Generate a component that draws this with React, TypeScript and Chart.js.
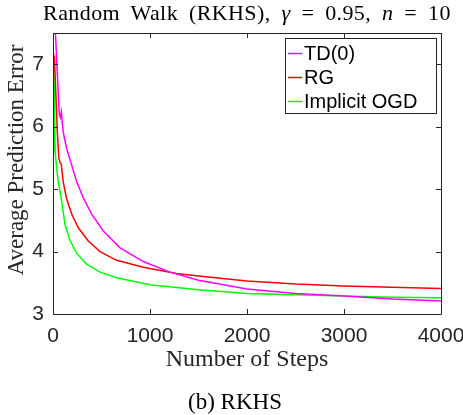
import React, { useEffect, useRef } from "react";
import { Chart, registerables } from "chart.js";

Chart.register(...registerables);

const tdSteps = [0, 25, 40, 52, 65, 75, 86, 96, 106, 141, 193, 244, 312, 399, 519, 691, 931, 1206, 1500, 2000, 2500, 3000, 3500, 4000];
const tdValues = [7.8, 7.5, 7.0, 6.6, 6.2, 6.15, 6.24, 6.05, 5.91, 5.65, 5.38, 5.12, 4.86, 4.6, 4.33, 4.06, 3.84, 3.67, 3.54, 3.4, 3.33, 3.29, 3.24, 3.21];

const rgSteps = [0, 15, 30, 45, 60, 72, 85, 106, 141, 193, 261, 364, 485, 657, 931, 1275, 1500, 2000, 2500, 3000, 3500, 4000];
const rgValues = [7.2, 7.1, 6.5, 5.9, 5.5, 5.43, 5.4, 5.11, 4.84, 4.6, 4.38, 4.17, 4.0, 3.86, 3.75, 3.65, 3.61, 3.53, 3.48, 3.45, 3.43, 3.41];

const ogdSteps = [0, 10, 22, 40, 55, 90, 124, 175, 244, 347, 485, 657, 1000, 1500, 2000, 2500, 3000, 3500, 4000];
const ogdValues = [5.6, 7.07, 5.6, 5.3, 5.11, 4.8, 4.43, 4.18, 3.97, 3.8, 3.67, 3.58, 3.47, 3.39, 3.33, 3.31, 3.29, 3.27, 3.26];

const seriesLabels = ["TD(0)", "RG", "Implicit OGD"];
const seriesColors = ["#ff00ff", "#ff0000", "#00ff00"];
const xTicks = [0, 1000, 2000, 3000, 4000];
const yTicks = [3, 4, 5, 6, 7];
const xTitle = "Number of Steps";
const yTitle = "Average Prediction Error";

const AXIS = "#262626";

const boxPlugin = {
  id: "boxTicks",
  afterDatasetsDraw(chart: any) {
    const { ctx, chartArea: a, scales } = chart;
    ctx.save();
    ctx.strokeStyle = AXIS;
    ctx.lineWidth = 1;
    ctx.beginPath();
    ctx.rect(Math.round(a.left) + 0.5, Math.round(a.top) + 0.5, Math.round(a.right - a.left), Math.round(a.bottom - a.top));
    ctx.stroke();
    const L = 5;
    ctx.beginPath();
    xTicks.forEach((v) => {
      const x = Math.round(scales.x.getPixelForValue(v)) + 0.5;
      ctx.moveTo(x, a.bottom);
      ctx.lineTo(x, a.bottom - L);
      ctx.moveTo(x, a.top);
      ctx.lineTo(x, a.top + L);
    });
    yTicks.forEach((v) => {
      const y = Math.round(scales.y.getPixelForValue(v)) + 0.5;
      ctx.moveTo(a.left, y);
      ctx.lineTo(a.left + L, y);
      ctx.moveTo(a.right, y);
      ctx.lineTo(a.right - L, y);
    });
    ctx.stroke();

    // axis titles
    ctx.fillStyle = AXIS;
    ctx.textAlign = "center";
    ctx.textBaseline = "middle";
    ctx.save();
    ctx.font = "24px 'Liberation Serif', serif";
    ctx.fillText(xTitle, (a.left + a.right) / 2, 360);
    ctx.restore();
    ctx.save();
    ctx.font = "23px 'Liberation Serif', serif";
    ctx.translate(17, 160);
    ctx.rotate(-Math.PI / 2);
    ctx.fillText(yTitle, 0, 0);
    ctx.restore();

    // legend
    const bx = 285.5, by = 38.5, bw = 151, bh = 75;
    ctx.fillStyle = "#ffffff";
    ctx.fillRect(bx, by, bw, bh);
    ctx.strokeStyle = AXIS;
    ctx.lineWidth = 1;
    ctx.strokeRect(bx, by, bw, bh);
    ctx.font = "20px 'Liberation Sans', Arial, sans-serif";
    ctx.textBaseline = "middle";
    ctx.textAlign = "left";
    seriesLabels.forEach((label, i) => {
      const ry = 53 + i * 24;
      ctx.strokeStyle = seriesColors[i];
      ctx.lineWidth = 1.5;
      ctx.beginPath();
      ctx.moveTo(288, ry + 0.5);
      ctx.lineTo(302, ry + 0.5);
      ctx.stroke();
      ctx.fillStyle = "#000000";
      ctx.fillText(label, 304, ry + 1);
    });
    ctx.restore();
  },
};

export default function App() {
  const ref = useRef<HTMLCanvasElement>(null);
  useEffect(() => {
    const mk = (steps: number[], vals: number[]) => steps.map((s, i) => ({ x: s, y: vals[i] }));
    const chart = new Chart(ref.current!, {
      type: "line",
      data: {
        datasets: [
          { label: seriesLabels[0], data: mk(tdSteps, tdValues), borderColor: seriesColors[0] },
          { label: seriesLabels[1], data: mk(rgSteps, rgValues), borderColor: seriesColors[1] },
          { label: seriesLabels[2], data: mk(ogdSteps, ogdValues), borderColor: seriesColors[2] },
        ].map((d) => ({ ...d, borderWidth: 1.5, pointRadius: 0, tension: 0, fill: false })),
      },
      options: {
        animation: false,
        responsive: false,
        devicePixelRatio: 1,
        layout: { padding: { top: 33, right: 22, bottom: 43, left: 0 } },
        plugins: { legend: { display: false }, tooltip: { enabled: false }, title: { display: false } },
        scales: {
          x: {
            type: "linear",
            min: 0,
            max: 4000,
            grid: { display: false, drawTicks: false },
            border: { display: false },
            afterBuildTicks: (s: any) => { s.ticks = xTicks.map((v) => ({ value: v })); },
            ticks: { color: AXIS, padding: 10, maxRotation: 0, callback: (v: any) => String(v), font: { family: "'Liberation Sans', Arial, sans-serif", size: 21 } },
            title: { display: false },
            afterFit: (s: any) => { s.height = 58; s.paddingLeft = 0; s.paddingRight = 0; },
          },
          y: {
            type: "linear",
            min: 3,
            max: 7.5,
            grid: { display: false, drawTicks: false },
            border: { display: false },
            afterBuildTicks: (s: any) => { s.ticks = yTicks.map((v) => ({ value: v })); },
            ticks: { color: AXIS, padding: 9, callback: (v: any) => String(v), font: { family: "'Liberation Sans', Arial, sans-serif", size: 21 } },
            title: { display: false },
            afterFit: (s: any) => { s.width = 53; s.paddingTop = 0; s.paddingBottom = 0; },
          },
        },
      },
      plugins: [boxPlugin],
    });
    return () => chart.destroy();
  }, []);

  return (
    <div style={{ position: "fixed", left: 0, top: 0, width: 463, height: 415, background: "#fff" }}>
      <canvas ref={ref} width={463} height={415} style={{ position: "absolute", left: 0, top: 0, width: 463, height: 415 }} />
      <div style={{ position: "absolute", left: 0, width: 494, top: 0, textAlign: "center", fontFamily: "'Liberation Serif', serif", fontSize: 22, letterSpacing: "0.4px", wordSpacing: "5px", lineHeight: "26px", color: "#000", whiteSpace: "nowrap" }}>
        Random Walk (RKHS), <i>γ</i> = 0.95, <i>n</i> = 10
      </div>
      <div style={{ position: "absolute", left: 0, width: 470, top: 388, textAlign: "center", fontFamily: "'Liberation Serif', serif", fontSize: 23, lineHeight: "28px", color: "#000", whiteSpace: "nowrap" }}>
        (b) RKHS
      </div>
    </div>
  );
}
